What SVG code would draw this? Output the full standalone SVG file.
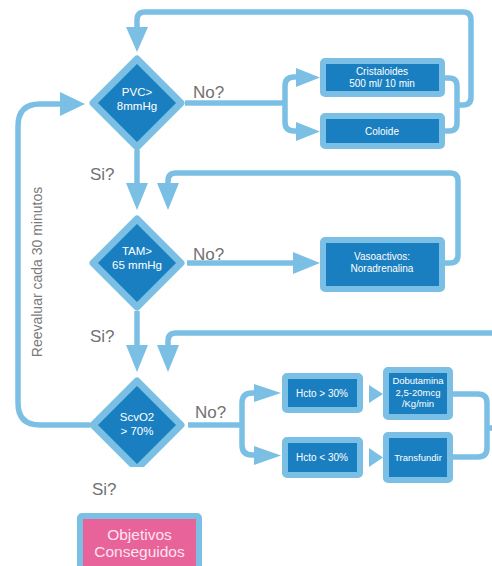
<svg xmlns="http://www.w3.org/2000/svg" width="492" height="566" viewBox="0 0 492 566">
<defs>
<style>
.ln{fill:none;stroke:#7bc0e4;stroke-width:5.5;stroke-linecap:butt}
.ah{fill:#7bc0e4}
.box{fill:#1a7fc0;stroke:#7bc0e4;stroke-width:6}
.dia{fill:#1a7fc0;stroke:#7bc0e4;stroke-width:7;stroke-linejoin:round}
.t{font-family:"Liberation Sans",Arial,sans-serif;fill:#ffffff;text-anchor:middle}
.lab{font-family:"Liberation Sans",Arial,sans-serif;fill:#717171;font-size:17px}
</style>
<clipPath id="cut"><rect x="0" y="300" width="492" height="167"/></clipPath>
</defs>
<rect width="492" height="566" fill="#ffffff"/>
<g id="connectors">
<path class="ln" d="M457,105 H463 Q471,105 471,97 V20 Q471,12 463,12 H145 Q137,12 137,20 V30"/>
<polygon class="ah" points="126,27 148,27 137,52"/>
<path class="ln" d="M90,425 H40 Q18,425 18,403 V126 Q18,104 40,104 H62"/>
<polygon class="ah" points="60,92 60,116 85,104"/>
<path class="ln" d="M185,103 H285"/>
<path class="ln" d="M298,77 H294 Q285,77 285,86 V122 Q285,131 294,131 H298"/>
<polygon class="ah" points="296,68 296,87 320,77.5"/>
<polygon class="ah" points="296,122 296,141 320,131.5"/>
<path class="ln" d="M445,78 H449 Q457,78 457,86 V123 Q457,131 449,131 H445"/>
<path class="ln" d="M137,150 V186"/>
<polygon class="ah" points="126,183 148,183 137,210"/>
<path class="ln" d="M445,263 H450 Q458,263 458,255 V181 Q458,173 450,173 H176 Q168,173 168,181 V186"/>
<polygon class="ah" points="157,183 179,183 168,210"/>
<path class="ln" d="M187,263 H296"/>
<polygon class="ah" points="293,252 293,274 320,263"/>
<path class="ln" d="M137,311 V348"/>
<polygon class="ah" points="126,345 148,345 137,372"/>
<path class="ln" d="M492,333 H176 Q168,333 168,341 V348"/>
<polygon class="ah" points="157,345 179,345 168,372"/>
<path class="ln" d="M188,425 H242"/>
<path class="ln" d="M256,393 H252 Q242,393 242,403 V445 Q242,455 252,455 H256"/>
<polygon class="ah" points="254,384 254,402 281,393"/>
<polygon class="ah" points="254,446 254,465 281,455.5"/>
<polygon class="ah" points="369,385 369,403 383,394"/>
<polygon class="ah" points="369,448 369,467 383,457.5"/>
<path class="ln" d="M452,394 H478 Q487,394 487,403 V448 Q487,457 478,457 H452"/>
<path class="ln" d="M487,428 H492"/>
</g>
<g id="pvc">
<polygon class="dia" points="137,59 181,103 137,147 93,103"/>
<text class="t" x="137" y="96" font-size="11.5">PVC&gt;</text>
<text class="t" x="137" y="110" font-size="11.5">8mmHg</text>
</g>
<text class="lab" x="193" y="98">No?</text>
<g id="cristaloides">
<rect class="box" x="323" y="61" width="119" height="33" rx="2"/>
<text class="t" x="382" y="75" font-size="10">Cristaloides</text>
<text class="t" x="382" y="87" font-size="10">500 ml/ 10 min</text>
</g>
<g id="coloide">
<rect class="box" x="323" y="116" width="119" height="30" rx="2"/>
<text class="t" x="382" y="135" font-size="10">Coloide</text>
</g>
<text class="lab" x="90" y="180">Si?</text>
<g id="tam">
<polygon class="dia" points="137,219 181,263 137,307 93,263"/>
<text class="t" x="137" y="255" font-size="11.5">TAM&gt;</text>
<text class="t" x="137" y="269" font-size="11.5">65 mmHg</text>
</g>
<text class="lab" x="193" y="260">No?</text>
<g id="vasoactivos">
<rect class="box" x="323" y="240" width="119" height="49" rx="2"/>
<text class="t" x="382" y="260" font-size="10">Vasoactivos:</text>
<text class="t" x="382" y="272" font-size="10">Noradrenalina</text>
</g>
<text class="lab" x="90" y="342">Si?</text>
<g id="scvo2">
<polygon class="dia" points="137,381 181,425 137,469 93,425" clip-path="url(#cut)"/>
<text class="t" x="137" y="421" font-size="11.5">ScvO2</text>
<text class="t" x="137" y="435" font-size="11.5">&gt; 70%</text>
</g>
<text class="lab" x="195" y="418">No?</text>
<g id="hcto-high">
<rect class="box" x="285" y="376" width="75" height="34" rx="2"/>
<text class="t" x="322" y="397" font-size="10">Hcto &gt; 30%</text>
</g>
<g id="hcto-low">
<rect class="box" x="285" y="440" width="75" height="35" rx="2"/>
<text class="t" x="322" y="461" font-size="10">Hcto &lt; 30%</text>
</g>
<g id="dobutamina">
<rect class="box" x="386" y="370" width="64" height="47" rx="2"/>
<text class="t" x="418" y="384" font-size="9.5">Dobutamina</text>
<text class="t" x="418" y="395.5" font-size="9.5">2,5-20mcg</text>
<text class="t" x="418" y="407" font-size="9.5">/Kg/min</text>
</g>
<g id="transfundir">
<rect class="box" x="386" y="435" width="64" height="45" rx="2"/>
<text class="t" x="418" y="461" font-size="9.5">Transfundir</text>
</g>
<text class="lab" x="92" y="495">Si?</text>
<g id="objetivos">
<rect x="80" y="516" width="119" height="56" rx="2" fill="#e8639a" stroke="#7bc0e4" stroke-width="6"/>
<text class="t" x="139.5" y="540" font-size="15.5" style="fill:#fde4ef">Objetivos</text>
<text class="t" x="139.5" y="557" font-size="15.5" style="fill:#fde4ef">Conseguidos</text>
</g>
<text class="lab" x="42" y="272" text-anchor="middle" transform="rotate(-90 42 272)" style="font-size:14px;fill:#7a7a7a">Reevaluar cada 30 minutos</text>
</svg>
